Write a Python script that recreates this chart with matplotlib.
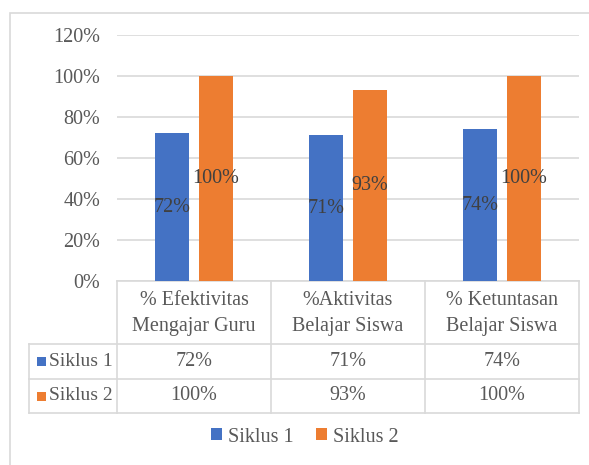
import matplotlib
matplotlib.use("Agg")
import matplotlib.pyplot as plt
from matplotlib.patches import Rectangle, Patch
from matplotlib.lines import Line2D
import numpy as np

categories = ["% Efektivitas\nMengajar Guru", "%Aktivitas\nBelajar Siswa", "% Ketuntasan\nBelajar Siswa"]
series_names = ["Siklus 1", "Siklus 2"]
siklus1 = [0.72, 0.71, 0.74]
siklus2 = [1.00, 0.93, 1.00]
yticks = [0, 0.2, 0.4, 0.6, 0.8, 1.0, 1.2]
colors = ["#4472C4", "#ED7D31"]

plt.rcParams['font.family'] = ['Liberation Serif', 'DejaVu Serif']
W, H = 589, 465
fig = plt.figure(figsize=(W / 100, H / 100), dpi=100)

def fx(px):
    return px / W

def fy(py):
    return 1 - py / H

grid_c = "#d9d9d9"
txt_c = "#595959"
lab_c = "#404040"
fs = 14.5

# outer chart border
fig.add_artist(Rectangle((fx(10), -0.01), 1.05, fy(13) + 0.01, transform=fig.transFigure,
                         fill=False, edgecolor=grid_c, linewidth=1.2))

# plot area
left, right, top, bottom = 117, 579, 35, 281
ax = fig.add_axes([fx(left), fy(bottom), fx(right - left), (bottom - top) / H])
x = np.arange(len(categories))
bw = 0.22
off = 0.143
data = [siklus1, siklus2]
for i, (vals, c) in enumerate(zip(data, colors)):
    pos = x + (-off if i == 0 else off)
    bars = ax.bar(pos, vals, width=bw, color=c, zorder=3)
    for b, v in zip(bars, vals):
        ax.text(b.get_x() + b.get_width() / 2, v / 2, f"{round(v*100)}%", ha="center", va="center",
                fontsize=fs, color=lab_c, zorder=4)
ax.set_xlim(-0.5, len(categories) - 0.5)
ax.set_ylim(0, 1.2)
ax.set_yticks(yticks)
ax.set_yticklabels([f"{round(t*100)}%" for t in yticks], fontsize=fs, color=txt_c)
ax.tick_params(axis="y", length=0, pad=12)
ax.set_xticks([])
ax.yaxis.grid(True, color=grid_c, linewidth=1.2, zorder=0)
for s in ["top", "right", "left"]:
    ax.spines[s].set_visible(False)
ax.spines["bottom"].set_color(grid_c)
ax.spines["bottom"].set_linewidth(1.2)

# data table
col_x = [left + (right - left) * k / len(categories) for k in range(len(categories) + 1)]
row_y = [281, 344, 379, 413]
tleft = 29
lc = dict(color=grid_c, linewidth=1.2, transform=fig.transFigure)
for yy in row_y[1:]:
    fig.add_artist(Line2D([fx(tleft), fx(right)], [fy(yy), fy(yy)], **lc))
for xx in col_x:
    fig.add_artist(Line2D([fx(xx), fx(xx)], [fy(row_y[0]), fy(row_y[-1])], **lc))
fig.add_artist(Line2D([fx(tleft), fx(tleft)], [fy(row_y[1]), fy(row_y[-1])], **lc))

for k, cat in enumerate(categories):
    cx = (col_x[k] + col_x[k + 1]) / 2
    fig.text(fx(cx), fy((row_y[0] + row_y[1]) / 2 + 1), cat, ha="center", va="center",
             fontsize=fs, color=txt_c, linespacing=1.5)
    for r, vals in enumerate(data):
        cy = (row_y[r + 1] + row_y[r + 2]) / 2
        fig.text(fx(cx), fy(cy), f"{round(vals[k]*100)}%", ha="center", va="center",
                 fontsize=fs, color=txt_c)

for r, (name, c) in enumerate(zip(series_names, colors)):
    cy = (row_y[r + 1] + row_y[r + 2]) / 2
    fig.add_artist(Rectangle((fx(37), fy(cy + 4.5)), fx(9), 9 / H, transform=fig.transFigure,
                             facecolor=c, edgecolor="none"))
    fig.text(fx(49), fy(cy), name, ha="left", va="center", fontsize=14, color=txt_c)

# legend
handles = [Patch(facecolor=c, edgecolor="none") for c in colors]
fig.legend(handles, series_names, loc="center", bbox_to_anchor=(fx(305), fy(437)), ncol=2,
           frameon=False, fontsize=fs, labelcolor=txt_c, handlelength=0.55, handleheight=0.55,
           handletextpad=0.3, columnspacing=1.1)

fig.savefig("out.png", dpi=100)
